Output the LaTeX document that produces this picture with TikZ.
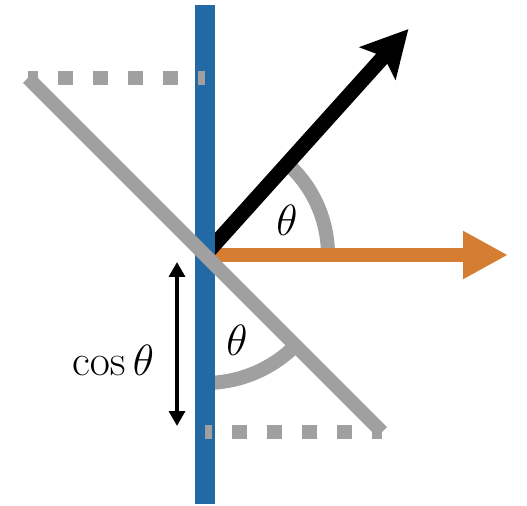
\documentclass[tikz,border=0pt]{standalone}
\usepackage{tikz}
\usetikzlibrary{arrows.meta, calc}
\usepackage{amsmath}
\definecolor{mirrorblue}{RGB}{35,105,165}
\definecolor{rayorange}{RGB}{213,126,50}
\definecolor{guidegrey}{RGB}{160,160,160}

\begin{document}
\begin{tikzpicture}[x=0.02cm, y=0.02cm,
    guide/.style={draw=guidegrey, line width=8pt},
    dashguide/.style={draw=guidegrey, line width=8pt, dash pattern=on 8.5pt off 11.4pt, dash phase=3pt},
    anglearc/.style={draw=guidegrey, line width=8pt},
    label/.style={inner sep=0pt, font=\fontsize{25}{30}\selectfont}]
  \useasboundingbox (0,0) rectangle (527,506);
  % key points
  \coordinate (o) at (205,251);
  \coordinate (top) at (205,501);
  \coordinate (bottom) at (205,2);
  \coordinate (gl) at (28,428);
  \coordinate (gr) at (382,74);
  \coordinate (dl) at (205,428);
  \coordinate (dr) at (205,74);
  \coordinate (orangetip) at (508,251);
  \coordinate (blacktip) at ($(o)+(48:304)$);
  \coordinate (cu) at (177,244);
  \coordinate (cd) at (177,80);

  % angle arcs
  \draw[anglearc] ($(o)+(0:123)$) arc[start angle=0, end angle=48, radius=2.46cm];
  \draw[anglearc] ($(o)+(-90:128)$) arc[start angle=-90, end angle=-45, radius=2.56cm];

  % rays
  \draw[draw=rayorange, line width=8pt,
        -{Triangle[length=25.6pt, width=25.6pt]}] (o) -- (orangetip);
  \draw[draw=black, line width=8.5pt,
        -{Stealth[length=26pt, width=27pt, inset=5pt]}] (o) -- (blacktip);

  % mirror
  \draw[draw=mirrorblue, line width=11.4pt] (bottom) -- (top);

  % tilted plane and its projection
  \draw[dashguide] (gl) -- (dl);
  \draw[dashguide] (gr) -- (dr);
  \draw[guide] (gl) -- (gr);

  % cos theta
  \draw[line width=2.3pt, {Triangle[length=8.5pt, width=9pt]}-{Triangle[length=8.5pt, width=9pt]}] (cu) -- (cd);
  \node[label, font=\fontsize{28}{32}\selectfont] (costheta) at (113,146) {$\cos\theta$};
  \node[label] (thetatop) at (287,286) {$\theta$};
  \node[label] (thetabottom) at (237,166) {$\theta$};
\end{tikzpicture}
\end{document}
